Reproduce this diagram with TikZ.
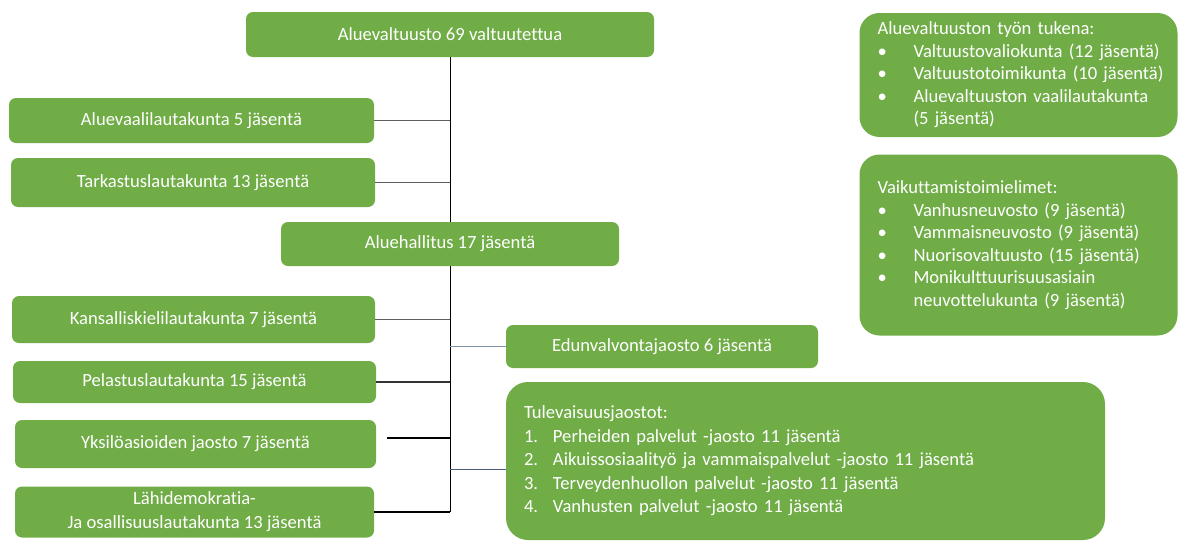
\documentclass[tikz,border=0pt]{standalone}
\usepackage{fontspec}
\setmainfont{Carlito}[Ligatures={NoCommon}]
\usepackage{xcolor}
\usepackage{tikz}
\definecolor{grn}{HTML}{70AD47}
\definecolor{lnk}{HTML}{5E5E5E}
\definecolor{lnkB}{HTML}{8092A8}
\definecolor{lnkD}{HTML}{4A5A78}
\newcommand{\bul}[1]{\mbox{\makebox[36pt][l]{\textbullet}#1}}
\newcommand{\num}[2]{\mbox{\makebox[29pt][l]{#1.}#2}}
\tikzset{
  box/.style   ={fill=grn, draw=none, rounded corners=7pt, text=white, align=center,
                 inner sep=0pt, font=\fontsize{18.6}{22.5}\selectfont},
  unit/.style  ={box, minimum height=45pt},
  panel/.style ={box, rounded corners=20pt, align=left, inner xsep=18pt, text width=282pt},
  trunk/.style ={line width=1pt, draw=black},
  link/.style  ={line width=1.4pt, draw=lnk},
  linkk/.style ={line width=1.1pt, draw=black},
  linkb/.style ={line width=1pt, draw=#1},
}
\begin{document}
\begin{tikzpicture}[x=1pt, y=-1pt]
  \useasboundingbox (0,0) rectangle (1178,541);
  % council and board
  \node[unit, minimum width=408pt](valtuusto) at (450,34.5){Aluevaltuusto 69 valtuutettua};
  \node[unit, minimum width=338pt, minimum height=44pt](hallitus) at (450,244){Aluehallitus 17 jäsentä};
  % committees on the left
  \node[unit, minimum width=365pt](vaali) at (191.5,120.5){Aluevaalilautakunta 5 jäsentä};
  \node[unit, minimum width=364pt, minimum height=49pt](tarkastus) at (193,182.5){Tarkastuslautakunta 13 jäsentä};
  \node[unit, minimum width=363pt, minimum height=47pt](kieli) at (193.5,319.5){Kansalliskielilautakunta 7 jäsentä};
  \node[unit, minimum width=363pt, minimum height=42pt](pelastus) at (194.5,382){Pelastuslautakunta 15 jäsentä};
  \node[unit, minimum width=361pt, minimum height=48pt](yksilo) at (195.5,444){Yksilöasioiden jaosto 7 jäsentä};
  \node[unit, minimum width=359pt, minimum height=51pt, font=\fontsize{18.6}{24}\selectfont](lahi) at (194.5,512){Lähidemokratia-\\Ja osallisuuslautakunta 13 jäsentä};
  % sections on the right of the trunk
  \node[unit, minimum width=312pt, minimum height=43pt](edunv) at (662,346.5){Edunvalvontajaosto 6 jäsentä};
  \node[box, rounded corners=22pt, align=left, inner xsep=18pt, text width=563pt, minimum height=158pt,
        font=\fontsize{18.6}{23.5}\selectfont](tulev) at (805.5,461){Tulevaisuusjaostot:\\
    \num{1}{Perheiden palvelut -jaosto 11 jäsentä}\\
    \num{2}{Aikuissosiaalityö ja vammaispalvelut -jaosto 11 jäsentä}\\
    \num{3}{Terveydenhuollon palvelut -jaosto 11 jäsentä}\\
    \num{4}{Vanhusten palvelut -jaosto 11 jäsentä}};
  % support panels
  \node[panel, minimum height=124pt](tukena) at (1018.5,75){Aluevaltuuston työn tukena:\\
    \bul{Valtuustovaliokunta (12 jäsentä)}\\
    \bul{Valtuustotoimikunta (10 jäsentä)}\\
    \bul{Aluevaltuuston vaalilautakunta}\\
    \hspace*{36pt}(5 jäsentä)};
  \node[panel, minimum height=181pt](vaikutus) at (1018.5,245){Vaikuttamistoimielimet:\\
    \bul{Vanhusneuvosto (9 jäsentä)}\\
    \bul{Vammaisneuvosto (9 jäsentä)}\\
    \bul{Nuorisovaltuusto (15 jäsentä)}\\
    \bul{Monikulttuurisuusasiain}\\
    \hspace*{36pt}neuvottelukunta (9 jäsentä)};
  % connectors
  \coordinate (trunkEnd) at (450,512);
  \coordinate (yksIn) at (387,438);
  \coordinate (tulevIn) at (506,469);
  \draw[trunk](valtuusto)--(hallitus);
  \draw[trunk](hallitus)--(trunkEnd);
  \draw[link](vaali)--(vaali -| hallitus);
  \draw[link](tarkastus)--(tarkastus -| hallitus);
  \draw[link](kieli)--(kieli -| hallitus);
  \draw[link, draw=black!80](pelastus)--(pelastus -| hallitus);
  \draw[linkk](yksIn)--(yksIn -| hallitus);
  \draw[linkk](lahi)--(trunkEnd);
  \draw[linkb=lnkB](edunv)--(edunv -| hallitus);
  \draw[linkb=lnkD](tulevIn -| hallitus)--(tulevIn);
\end{tikzpicture}
\end{document}
